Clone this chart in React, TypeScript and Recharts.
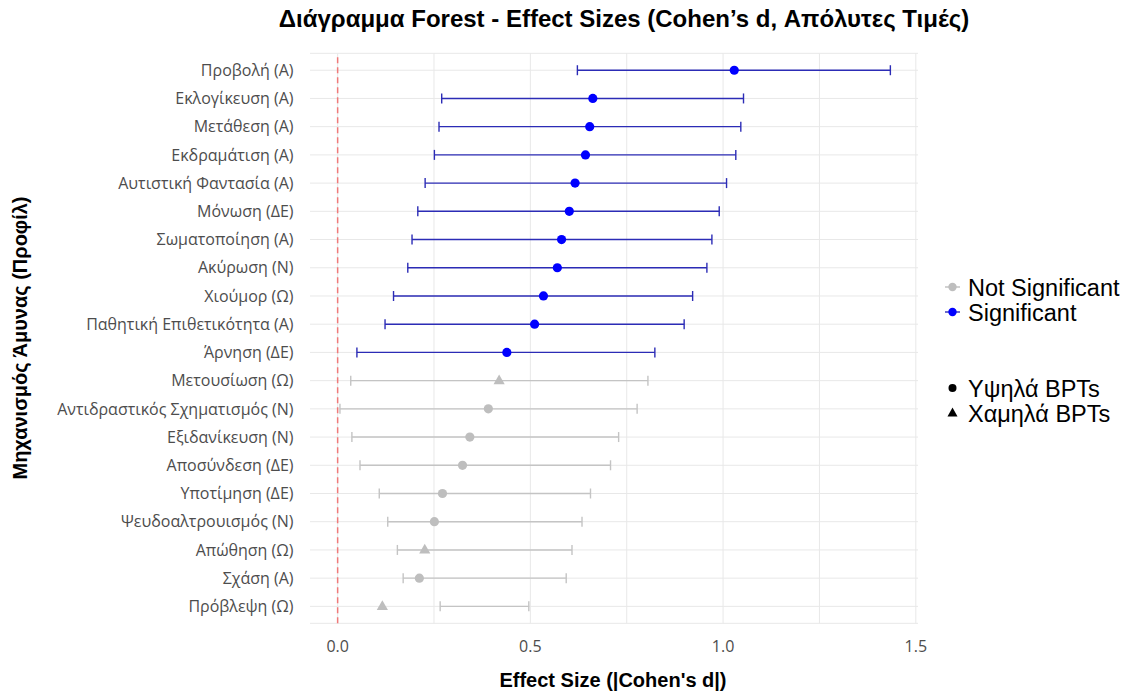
import {
  ScatterChart,
  Scatter,
  XAxis,
  YAxis,
  ZAxis,
  CartesianGrid,
  ErrorBar,
  ReferenceLine,
} from "recharts";

const mechanisms = [
  "Προβολή (Α)",
  "Εκλογίκευση (Α)",
  "Μετάθεση (Α)",
  "Εκδραμάτιση (Α)",
  "Αυτιστική Φαντασία (Α)",
  "Μόνωση (ΔΕ)",
  "Σωματοποίηση (Α)",
  "Ακύρωση (Ν)",
  "Χιούμορ (Ω)",
  "Παθητική Επιθετικότητα (Α)",
  "Άρνηση (ΔΕ)",
  "Μετουσίωση (Ω)",
  "Αντιδραστικός Σχηματισμός (Ν)",
  "Εξιδανίκευση (Ν)",
  "Αποσύνδεση (ΔΕ)",
  "Υποτίμηση (ΔΕ)",
  "Ψευδοαλτρουισμός (Ν)",
  "Απώθηση (Ω)",
  "Σχάση (Α)",
  "Πρόβλεψη (Ω)",
];

const effectSizes = [
  1.029, 0.662, 0.654, 0.643, 0.616, 0.601, 0.581, 0.57, 0.534, 0.511, 0.439,
  0.419, 0.391, 0.343, 0.324, 0.272, 0.251, 0.226, 0.212, 0.116,
];
const ciLower = [
  0.622, 0.27, 0.263, 0.251, 0.227, 0.208, 0.193, 0.182, 0.145, 0.123, 0.05,
  0.034, 0.006, 0.037, 0.058, 0.108, 0.13, 0.155, 0.17, 0.266,
];
const ciUpper = [
  1.434, 1.053, 1.046, 1.033, 1.009, 0.99, 0.971, 0.958, 0.921, 0.899, 0.823,
  0.805, 0.777, 0.729, 0.708, 0.656, 0.634, 0.608, 0.593, 0.496,
];
const significant = [
  true, true, true, true, true, true, true, true, true, true, true,
  false, false, false, false, false, false, false, false, false,
];
// true = Υψηλά BPTs (circle), false = Χαμηλά BPTs (triangle)
const highBPT = [
  true, true, true, true, true, true, true, true, true, true, true,
  false, true, true, true, true, true, false, true, false,
];

const xTicks = [0, 0.5, 1, 1.5];
const xGrid = [0, 0.25, 0.5, 0.75, 1, 1.25, 1.5];

const BLUE = "#0000ff";
const BLUE_LINE = "#2c2cb6";
const GREY = "#bebebe";
const GREY_LINE = "#c4c4c4";

const rows = mechanisms.map((name, i) => ({
  name,
  row: i + 1,
  d: effectSizes[i],
  err: [effectSizes[i] - ciLower[i], ciUpper[i] - effectSizes[i]],
  sig: significant[i],
  high: highBPT[i],
}));

const sigRows = rows.filter((r) => r.sig);
const nonSigRows = rows.filter((r) => !r.sig);

const marker = (color: string) => (props: any) => {
  const { cx, cy, payload } = props;
  if (payload.high) return <circle cx={cx} cy={cy} r={4.6} fill={color} />;
  return (
    <polygon
      points={`${cx},${cy - 6.2} ${cx - 5.6},${cy + 3.6} ${cx + 5.6},${cy + 3.6}`}
      fill={color}
    />
  );
};

const tickFont = { fontFamily: "Open Sans", fontSize: 16, fill: "#4d4d4d" };

const App = () => {
  return (
    <div
      style={{
        position: "absolute",
        left: 0,
        top: 0,
        width: 1126,
        height: 692,
        background: "#fff",
        fontFamily: "Liberation Sans, Arial, sans-serif",
      }}
    >
      <div
        style={{
          position: "absolute",
          left: 0,
          width: 1248,
          top: 5,
          textAlign: "center",
          fontWeight: "bold",
          fontSize: 24,
          color: "#000",
          whiteSpace: "nowrap",
        }}
      >
        Διάγραμμα Forest - Effect Sizes (Cohen’s d, Απόλυτες Τιμές)
      </div>

      <ScatterChart
        width={1126}
        height={692}
        margin={{ top: 53.3, right: 208, bottom: 38.7, left: 0 }}
        style={{ position: "absolute", left: 0, top: 0 }}
      >
        <CartesianGrid stroke="#e8e8e8" strokeWidth={1} verticalValues={xGrid} />
        <XAxis
          type="number"
          dataKey="d"
          domain={[-0.0717, 1.5057]}
          allowDataOverflow
          ticks={xTicks}
          tickFormatter={(v: number) => v.toFixed(1)}
          axisLine={false}
          tickLine={false}
          tickSize={0}
          tickMargin={17}
          height={30}
          tick={tickFont}
        />
        <YAxis
          type="number"
          dataKey="row"
          domain={[0.4, 20.6]}
          reversed
          allowDataOverflow
          ticks={rows.map((r) => r.row)}
          interval={0}
          tickFormatter={(v: number) => mechanisms[v - 1]}
          axisLine={false}
          tickLine={false}
          tickSize={0}
          tickMargin={16.5}
          width={310}
          tick={tickFont}
        />
        <ZAxis range={[60, 60]} />
        <ReferenceLine
          x={0}
          stroke="#f07a7a"
          strokeDasharray="6 4"
          strokeWidth={1.5}
        />
        <Scatter
          data={nonSigRows}
          fill={GREY}
          shape={marker(GREY)}
          isAnimationActive={false}
        >
          <ErrorBar
            dataKey="err"
            direction="x"
            width={5}
            stroke={GREY_LINE}
            strokeWidth={1.4}
          />
        </Scatter>
        <Scatter
          data={sigRows}
          fill={BLUE}
          shape={marker(BLUE)}
          isAnimationActive={false}
        >
          <ErrorBar
            dataKey="err"
            direction="x"
            width={5}
            stroke={BLUE_LINE}
            strokeWidth={1.4}
          />
        </Scatter>
      </ScatterChart>

      <div
        style={{
          position: "absolute",
          left: 0,
          width: 1226,
          top: 669,
          textAlign: "center",
          fontWeight: "bold",
          fontSize: 20,
          color: "#000",
          whiteSpace: "nowrap",
        }}
      >
        Effect Size (|Cohen's d|)
      </div>

      <div
        style={{
          position: "absolute",
          left: 20,
          top: 338,
          transform: "translate(-50%, -50%) rotate(-90deg)",
          whiteSpace: "nowrap",
          fontWeight: "bold",
          fontSize: 20,
          color: "#000",
        }}
      >
        Μηχανισμός Άμυνας (Προφίλ)
      </div>

      <svg
        width={190}
        height={170}
        style={{ position: "absolute", left: 936, top: 270 }}
      >
        <g fontFamily="Liberation Sans, Arial, sans-serif" fontSize={23.5} fill="#000">
          <line x1={9} x2={24} y1={17} y2={17} stroke={GREY} strokeWidth={1.4} />
          <circle cx={16.5} cy={17} r={4.2} fill={GREY} />
          <text x={32} y={25.5}>Not Significant</text>
          <line x1={9} x2={24} y1={42} y2={42} stroke={BLUE_LINE} strokeWidth={1.4} />
          <circle cx={16.5} cy={42} r={4.2} fill={BLUE} />
          <text x={32} y={50.5}>Significant</text>
          <circle cx={16.5} cy={118} r={4} fill="#000" />
          <text x={32} y={126.5}>Υψηλά BPTs</text>
          <polygon points="16.5,137.5 11.5,146.5 21.5,146.5" fill="#000" />
          <text x={32} y={151.5}>Χαμηλά BPTs</text>
        </g>
      </svg>
    </div>
  );
};

export default App;
